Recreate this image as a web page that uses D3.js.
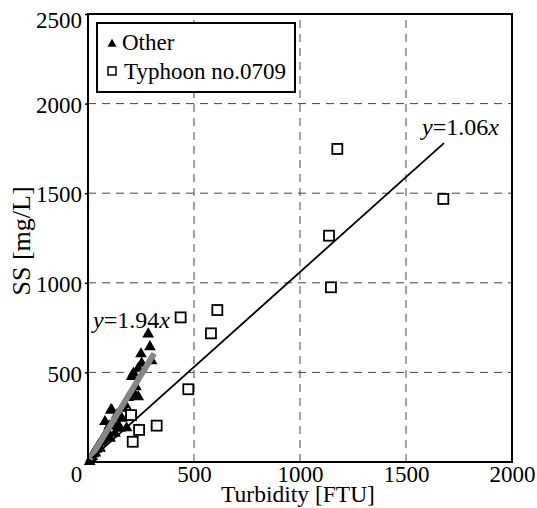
<!DOCTYPE html>
<html>
<head>
<meta charset="utf-8">
<script src="https://cdn.jsdelivr.net/npm/d3@7"></script>
</head>
<body style="margin:0; background:#fff">
<script>
// tick values
const xTicks = [0, 500, 1000, 1500, 2000];
const yTicks = [500, 1000, 1500, 2000, 2500];

// "Other" samples: turbidity [FTU], SS [mg/L]
const otherTurb = [8, 15, 20, 25, 30, 35, 40, 45, 50, 57, 60, 65, 70, 75, 80, 85, 90, 95, 100, 104,
                   108, 112, 120, 127, 135, 140, 145, 151, 159, 167, 175, 182, 190, 198, 206, 214,
                   222, 226, 237, 237, 250, 253, 284, 292, 300];
const otherSS   = [2, 20, 30, 45, 55, 50, 70, 80, 95, 76, 110, 120, 125, 140, 225, 150, 170, 165, 200, 132,
                   290, 290, 215, 160, 262, 250, 200, 188, 244, 299, 320, 190, 360, 272, 476, 495,
                   374, 420, 364, 522, 603, 551, 714, 643, 565];

// Typhoon no.0709 samples
const typhTurb = [211, 203, 241, 324, 473, 437, 580, 610, 1137, 1146, 1176, 1676];
const typhSS   = [113, 262, 179, 203, 406, 807, 718, 848, 1263, 975, 1747, 1468];

// regression slopes and fit ranges
const fitSlopes = [1.94, 1.06];
const fitRanges = [[8, 312], [20, 1679]];
const fitLabels = ["1.94", "1.06"];

const FONT = '"Liberation Serif"';
const W = 537, H = 508;
const svg = d3.select('body').append('svg')
    .attr('width', W).attr('height', H)
    .style('font-family', FONT);

const x = d3.scaleLinear().domain([0, 2000]).range([88, 512]);
const y = d3.scaleLinear().domain([0, 2500]).range([462, 14]);

// dashed grid
svg.append('g').selectAll('line.gx')
    .data(xTicks.slice(1, -1)).join('line')
    .attr('x1', d => x(d)).attr('x2', d => x(d))
    .attr('y1', y(0)).attr('y2', y(2500))
    .attr('stroke', '#444').attr('stroke-width', 1)
    .attr('stroke-dasharray', '8,6');
svg.append('g').selectAll('line.gy')
    .data(yTicks.slice(0, -1)).join('line')
    .attr('x1', x(0)).attr('x2', x(2000))
    .attr('y1', d => y(d)).attr('y2', d => y(d))
    .attr('stroke', '#444').attr('stroke-width', 1)
    .attr('stroke-dasharray', '8,6');

// axes
const xAxis = svg.append('g')
    .attr('transform', `translate(0,${y(0)})`)
    .call(d3.axisBottom(x).tickValues(xTicks).tickFormat(d3.format('d')).tickSize(0).tickPadding(4))
    .attr('font-family', null).attr('font-size', null);
xAxis.select('.domain').remove();
xAxis.selectAll('text')
    .style('font-family', FONT).style('font-size', '23px').attr('fill', '#000')
    .attr('dx', d => d === 0 ? -12 : 0);

const yAxis = svg.append('g')
    .attr('transform', `translate(${x(0)},0)`)
    .call(d3.axisLeft(y).tickValues(yTicks).tickFormat(d3.format('d')).tickSize(3).tickPadding(3))
    .attr('font-family', null).attr('font-size', null);
yAxis.select('.domain').remove();
yAxis.selectAll('line').attr('stroke', '#000').attr('stroke-width', 1.5);
yAxis.selectAll('text')
    .style('font-family', FONT).style('font-size', '23px').attr('fill', '#000')
    .attr('dy', d => d === 2500 ? '0.6em' : '0.38em');

// markers: triangles
const tri = d3.symbol().type(d3.symbolTriangle).size(60);
svg.append('g').selectAll('path')
    .data(d3.range(otherTurb.length)).join('path')
    .attr('d', tri)
    .attr('transform', i => `translate(${x(otherTurb[i])},${y(otherSS[i])})`)
    .attr('fill', '#000');

// fitted lines
const fitColors = ['#868686', '#000'];
const fitWidths = [6, 1.8];
fitSlopes.forEach((k, j) => {
    svg.append('line')
        .attr('x1', x(fitRanges[j][0])).attr('y1', y(k * fitRanges[j][0]))
        .attr('x2', x(fitRanges[j][1])).attr('y2', y(k * fitRanges[j][1]))
        .attr('stroke', fitColors[j]).attr('stroke-width', fitWidths[j]);
});

// markers: open squares
svg.append('g').selectAll('rect')
    .data(d3.range(typhTurb.length)).join('rect')
    .attr('x', i => x(typhTurb[i]) - 5).attr('y', i => y(typhSS[i]) - 5)
    .attr('width', 10).attr('height', 10)
    .attr('fill', '#fff').attr('stroke', '#000').attr('stroke-width', 1.8);

// plain text helper
function label(parent, px, py, size, str) {
    return parent.append('text')
        .attr('x', px).attr('y', py)
        .style('font-family', FONT).style('font-size', size + 'px')
        .text(str);
}

// fit labels
const labelPos = [[93, 328], [422, 135]];
fitLabels.forEach((s, j) => {
    const t = label(svg, labelPos[j][0], labelPos[j][1], 24, null);
    t.append('tspan').style('font-style', 'italic').text('y');
    t.append('tspan').text('=' + s);
    t.append('tspan').style('font-style', 'italic').text('x');
});

// frame
svg.append('rect')
    .attr('x', x(0)).attr('y', y(2500))
    .attr('width', x(2000) - x(0)).attr('height', y(0) - y(2500))
    .attr('fill', 'none').attr('stroke', '#000').attr('stroke-width', 2);

// axis titles
label(svg, 298, 502, 23.5, 'Turbidity [FTU]').attr('text-anchor', 'middle');
label(svg, 0, 0, 26, 'SS [mg/L]')
    .attr('transform', 'translate(30,241) rotate(-90)')
    .attr('text-anchor', 'middle');

// legend
const lg = svg.append('g');
lg.append('rect')
    .attr('x', 97).attr('y', 23).attr('width', 198).attr('height', 69)
    .attr('fill', '#fff').attr('stroke', '#000').attr('stroke-width', 2);
lg.append('path')
    .attr('d', d3.symbol().type(d3.symbolTriangle).size(36))
    .attr('transform', 'translate(112,44)').attr('fill', '#000');
label(lg, 122, 50, 23, 'Other');
lg.append('rect')
    .attr('x', 108).attr('y', 67).attr('width', 8).attr('height', 8)
    .attr('fill', '#fff').attr('stroke', '#000').attr('stroke-width', 1.5);
label(lg, 124, 79, 23, 'Typhoon no.0709');
</script>
</body>
</html>
